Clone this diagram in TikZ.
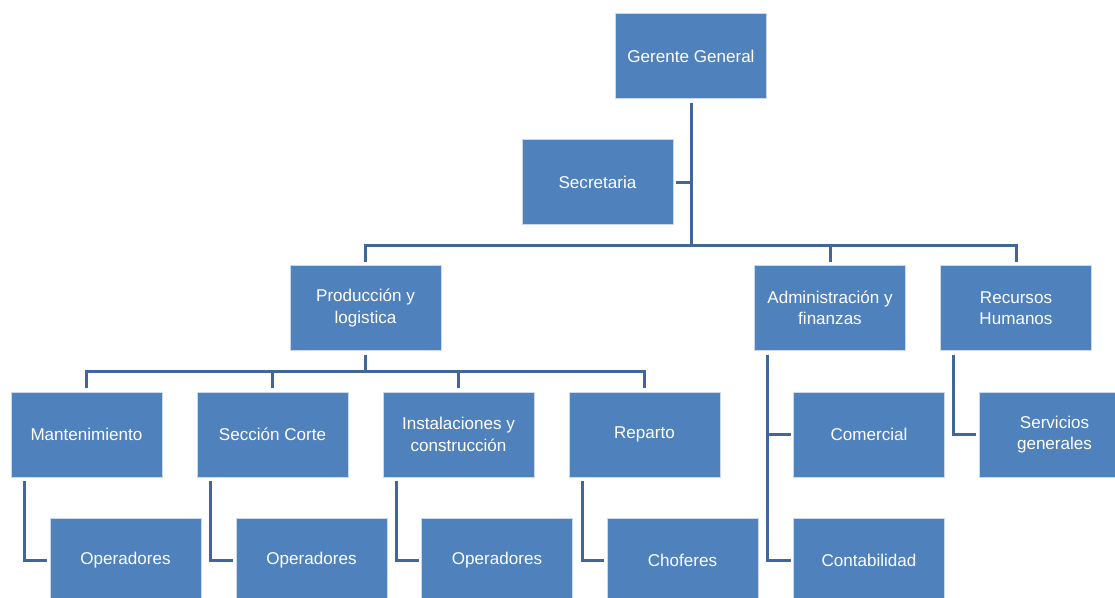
\documentclass[tikz,border=0pt]{standalone}
\usepackage{fontspec}
\setmainfont{Liberation Sans}
\usetikzlibrary{calc}
\definecolor{boxfill}{HTML}{4F81BD}
\definecolor{linkc}{HTML}{41679A}
\begin{document}
\begin{tikzpicture}[x=0.75pt,y=-0.75pt,
  unit/.style={rectangle, fill=boxfill, draw=boxfill!30!white, line width=0.75pt,
    minimum width=113.25pt, minimum height=63.75pt, inner sep=2pt, outer sep=0pt,
    text=white, align=center, font=\fontsize{12.8}{16}\selectfont},
  link/.style={draw=linkc, line width=2.25pt}]
\useasboundingbox (0,0) rectangle (1115,597);
\clip (0,0) rectangle (1115,597);

% top level
\node[unit] (gg) at (691,56) {Gerente General};
\node[unit] (sec) at (597.5,182) {Secretaria};

% departments
\node[unit] (prod) at (365.5,308) {Producción y\\logistica};
\node[unit] (adm) at (830,308) {Administración y\\finanzas};
\node[unit] (rh) at (1016,308) {Recursos\\Humanos};

% production sections
\node[unit] (mant) at (86.5,434.5) {Mantenimiento};
\node[unit] (corte) at (272.5,434.5) {Sección Corte};
\node[unit] (inst) at (458.5,434.5) {Instalaciones y\\construcción};
\node[unit] (rep) at (644.5,434.5) {Reparto};

\node[unit] (op1) at (125.5,560.5) {Operadores};
\node[unit] (op2) at (311.5,560.5) {Operadores};
\node[unit] (op3) at (497,560.5) {Operadores};
\node[unit] (chof) at (682.5,560.5) {Choferes};

% administration and HR units
\node[unit] (com) at (869,434.5) {Comercial};
\node[unit] (cont) at (869,560.5) {Contabilidad};
\node[unit] (serv) at (1054.5,434.5) {Servicios\\generales};

% buses
\coordinate (busA) at (0,245.5);
\coordinate (busB) at (0,371.5);

\draw[link] ($(gg.south)+(0,4)$) -- (gg.south |- busA);
\draw[link] ($(sec.east)+(3,0)$) -- (sec.east -| gg.south);

\draw[link] ($(prod.north)+(0,-4)$) -- (prod.north |- busA) -- (rh.north |- busA) -- ($(rh.north)+(0,-4)$);
\draw[link] (adm.north |- busA) -- ($(adm.north)+(0,-4)$);

\draw[link] ($(prod.south)+(0,4)$) -- (prod.south |- busB);
\draw[link] ($(mant.north)+(0,-4)$) -- (mant.north |- busB) -- (rep.north |- busB) -- ($(rep.north)+(0,-4)$);
\draw[link] (corte.north |- busB) -- ($(corte.north)+(0,-4)$);
\draw[link] (inst.north |- busB) -- ($(inst.north)+(0,-4)$);

% elbow connectors to subordinate units
\draw[link] ($(mant.south west)+(13,4)$) |- ($(op1.west)+(-3,0)$);
\draw[link] ($(corte.south west)+(13,4)$) |- ($(op2.west)+(-3,0)$);
\draw[link] ($(inst.south west)+(13,4)$) |- ($(op3.west)+(-3,0)$);
\draw[link] ($(rep.south west)+(13,4)$) |- ($(chof.west)+(-3,0)$);

\coordinate (admx) at ($(adm.south west)+(13,4)$);
\draw[link] (admx) |- ($(cont.west)+(-3,0)$);
\draw[link] (admx |- com.west) -- ($(com.west)+(-3,0)$);

\draw[link] ($(rh.south west)+(13,4)$) |- ($(serv.west)+(-3,0)$);
\end{tikzpicture}
\end{document}
